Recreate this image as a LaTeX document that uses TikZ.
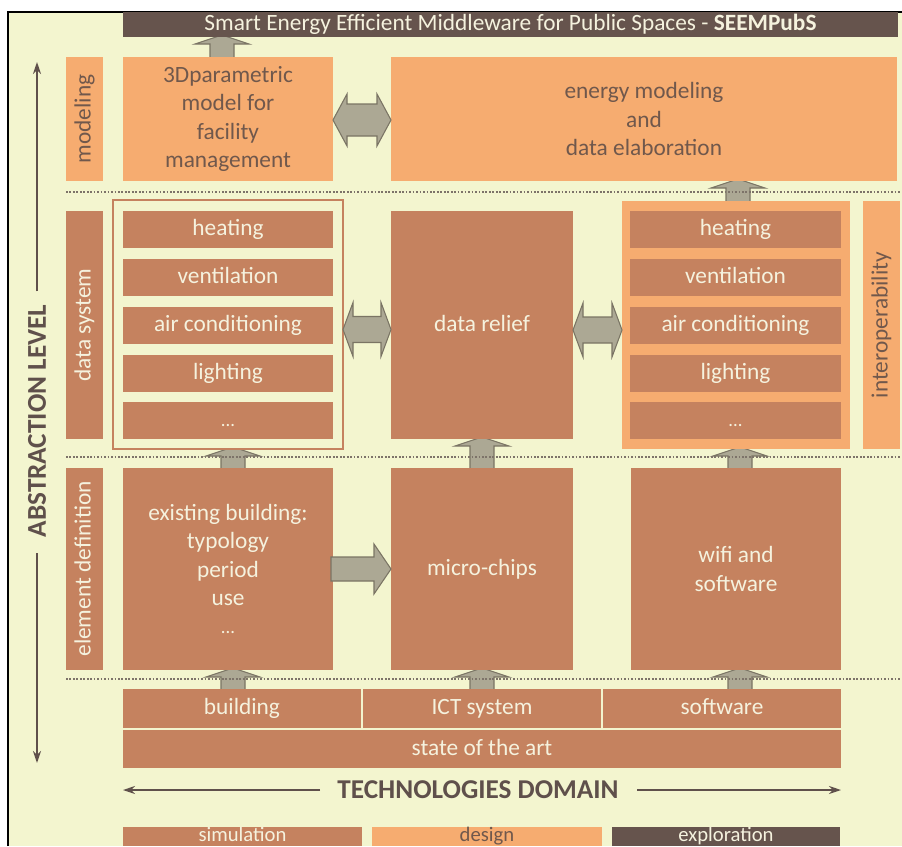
\documentclass[tikz,border=0pt]{standalone}
\usepackage{fontspec}
\setmainfont{Carlito}
\usetikzlibrary{calc,arrows.meta}
\definecolor{bgc}{RGB}{243,245,207}
\definecolor{brn}{RGB}{197,130,95}
\definecolor{org}{RGB}{246,172,112}
\definecolor{drk}{RGB}{102,84,77}
\definecolor{pale}{RGB}{245,242,222}
\definecolor{dtext}{RGB}{112,88,76}
\definecolor{arrf}{RGB}{172,168,148}
\definecolor{arrd}{RGB}{122,116,100}
\definecolor{dotc}{RGB}{125,115,105}
\definecolor{axc}{RGB}{95,80,75}
\pgfdeclarelayer{bglayer}\pgfdeclarelayer{arrlayer}
\pgfsetlayers{bglayer,arrlayer,main}
\newcommand\boxnode[7]{\node[#1, minimum width={(#5-#3)*0.75pt}, minimum height={(#6-#4)*0.75pt}] (#2) at ({(#3+#5)/2},{(#4+#6)/2}) {#7};}
\newcommand\vboxnode[7]{\node[#1, rotate=90, minimum height={(#5-#3)*0.75pt}, minimum width={(#6-#4)*0.75pt}] (#2) at ({(#3+#5)/2},{(#4+#6)/2}) {#7};}
\newcommand\dotsmall{{\fontsize{14}{17}\selectfont ...}}
% up block arrow: #1 x coordinate, #2 lower node, #3 upper node
\newcommand\uparr[3]{\draw[blk] ($(#2.north -| #1)+(-12,2)$) -- ($(#3.south -| #1)+(-12,7)$) -- ($(#3.south -| #1)+(-27,7)$) -- ($(#3.south -| #1)+(0,-2)$) -- ($(#3.south -| #1)+(27,7)$) -- ($(#3.south -| #1)+(12,7)$) -- ($(#2.north -| #1)+(12,2)$) -- cycle;}
% double block arrow: #1 left node, #2 right node, #3 head half, #4 shaft half, #5 head length, #6 y offset
\newcommand\dblarr[6]{\draw[blk] ($(#1.east)+(0,#6)$) -- ($(#1.east)+(#5,#6-#3)$) -- ($(#1.east)+(#5,#6-#4)$) -- ($(#2.west |- #1.east)+(-#5,#6-#4)$) -- ($(#2.west |- #1.east)+(-#5,#6-#3)$) -- ($(#2.west |- #1.east)+(0,#6)$) -- ($(#2.west |- #1.east)+(-#5,#6+#3)$) -- ($(#2.west |- #1.east)+(-#5,#6+#4)$) -- ($(#1.east)+(#5,#6+#4)$) -- ($(#1.east)+(#5,#6+#3)$) -- cycle;}
% right block arrow
\newcommand\rarr[2]{\draw[blk] ($(#1.east)+(-2,-12)$) -- ($(#2.west |- #1.east)+(-17,-12)$) -- ($(#2.west |- #1.east)+(-17,-25)$) -- ($(#2.west |- #1.east)+(0,0)$) -- ($(#2.west |- #1.east)+(-17,25)$) -- ($(#2.west |- #1.east)+(-17,12)$) -- ($(#1.east)+(-2,12)$) -- cycle;}
\begin{document}
\begin{tikzpicture}[x=0.75pt,y=-0.75pt,
  box/.style={inner sep=0pt, outer sep=0pt, align=center, font=\fontsize{17.5}{21.3}\selectfont},
  bbox/.style={box, fill=brn, text=pale},
  obox/.style={box, fill=org, text=dtext},
  dbox/.style={box, fill=drk, text=pale},
  strut/.style={text height=12.5pt, text depth=3.5pt},
  legend/.style={font=\fontsize{15.5}{18}\selectfont, text height=11pt, text depth=3pt},
  blk/.style={fill=arrf, draw=arrd, line width=0.8pt, line join=miter},
  sepline/.style={draw=dotc, line width=1.5pt, dash pattern=on 1.3pt off 1.3pt},
  axis/.style={draw=axc, line width=1.4pt, -{Stealth[length=9pt,width=6pt]}},
  big/.style={font=\fontsize{20.4}{23}\selectfont\bfseries, text=axc}
]
\useasboundingbox (0,0) rectangle (902,846);
\clip (0,0) rectangle (902,846);
\begin{pgfonlayer}{bglayer}
\fill[white] (0,0) rectangle (902,846);
\fill[bgc] (8,12) rectangle (902,846);
\draw[black, line width=1.2pt] (8,846) -- (8,12) -- (902,12);
\end{pgfonlayer}
% title
\boxnode{dbox, strut}{tm}{123}{12}{898}{37}{Smart Energy Efficient Middleware for Public Spaces - \textbf{SEEMPubS}}
% modeling row
\vboxnode{obox, strut}{mod}{66}{57}{103}{181}{modeling}
\boxnode{obox}{m3d}{123}{57}{333}{181}{3Dparametric\\model for\\facility\\management}
\boxnode{obox}{en}{391}{57}{897}{181}{energy modeling\\and\\data elaboration}
% data system row
\vboxnode{bbox, strut}{ds}{66}{211}{103}{439}{data system}
\boxnode{box, draw=brn, fill=bgc, line width=0.9pt}{lo}{113}{200}{343}{449}{}
\boxnode{bbox, strut}{lh}{123}{211}{333}{248}{heating}
\boxnode{bbox, strut}{lv}{123}{259}{333}{296}{ventilation}
\boxnode{bbox, strut}{la}{123}{307}{333}{344}{air conditioning}
\boxnode{bbox, strut}{ll}{123}{355}{333}{392}{lighting}
\boxnode{bbox, strut}{ld}{123}{402}{333}{439}{\dotsmall}
\boxnode{bbox, strut}{dr}{391}{211}{573}{439}{data relief}
\boxnode{obox}{ro}{622}{201}{850}{449}{}
\boxnode{bbox, strut}{rh}{630}{211}{841}{248}{heating}
\boxnode{bbox, strut}{rv}{630}{259}{841}{296}{ventilation}
\boxnode{bbox, strut}{ra}{630}{307}{841}{344}{air conditioning}
\boxnode{bbox, strut}{rl}{630}{355}{841}{392}{lighting}
\boxnode{bbox, strut}{rd}{630}{402}{841}{439}{\dotsmall}
\vboxnode{obox, strut}{io}{863}{201}{900}{449}{interoperability}
% element definition row
\vboxnode{bbox, strut}{ed}{66}{468}{103}{670}{element definition}
\boxnode{bbox}{eb}{123}{468}{333}{670}{existing building:\\typology\\period\\use\\\dotsmall}
\boxnode{bbox, strut}{mc}{391}{468}{573}{670}{micro-chips}
\boxnode{bbox}{wf}{631}{468}{841}{670}{wifi and\\software}
% state of the art
\boxnode{bbox, strut}{b1}{123}{689}{361}{728}{building}
\boxnode{bbox, strut}{b2}{363}{689}{601}{728}{ICT system}
\boxnode{bbox, strut}{b3}{603}{689}{841}{728}{software}
\boxnode{bbox, strut}{sa}{123}{730}{841}{768}{state of the art}
% legend
\boxnode{bbox, legend}{sim}{123}{827}{362}{846}{simulation}
\boxnode{obox, legend}{des}{372}{827}{602}{846}{design}
\boxnode{dbox, legend}{exp}{612}{827}{840}{846}{exploration}
% dotted separators
\draw[sepline] (66,192) -- (900,192);
\draw[sepline] (66,457) -- (900,457);
\draw[sepline] (66,679) -- (900,679);
% axes
\node[big, inner sep=0pt, outer sep=0pt] (td) at (478,790) {TECHNOLOGIES DOMAIN};
\coordinate (tdl) at (123,790);
\coordinate (tdr) at (841,790);
\draw[axis, shorten <=13] (td.west) -- (tdl);
\draw[axis, shorten <=14] (td.east) -- (tdr);
\node[big, rotate=90, inner sep=0pt, outer sep=0pt] (abs) at (37,421) {ABSTRACTION LEVEL};
\coordinate (abt) at (37,62);
\coordinate (abb) at (37,763);
\draw[axis, shorten <=10] (abs.east) -- (abt);
\draw[axis, shorten <=12] (abs.west) -- (abb);
% block arrows
\coordinate (xa) at (222,0);
\coordinate (xb) at (738,0);
\coordinate (xc) at (233,0);
\coordinate (xd) at (482,0);
\coordinate (xe) at (740,0);
\begin{pgfonlayer}{arrlayer}
\uparr{xa}{m3d}{tm}
\uparr{xb}{ro}{en}
\uparr{xc}{eb}{lo}
\uparr{xd}{mc}{dr}
\uparr{xe}{wf}{ro}
\uparr{xc}{b1}{eb}
\uparr{xd}{b2}{mc}
\uparr{xe}{b3}{wf}
\end{pgfonlayer}
\dblarr{m3d}{en}{26}{16}{14}{1}
\dblarr{lo}{dr}{27}{13}{10}{5}
\dblarr{dr}{ro}{27}{13}{10}{5}
\rarr{eb}{mc}
\end{tikzpicture}
\end{document}
